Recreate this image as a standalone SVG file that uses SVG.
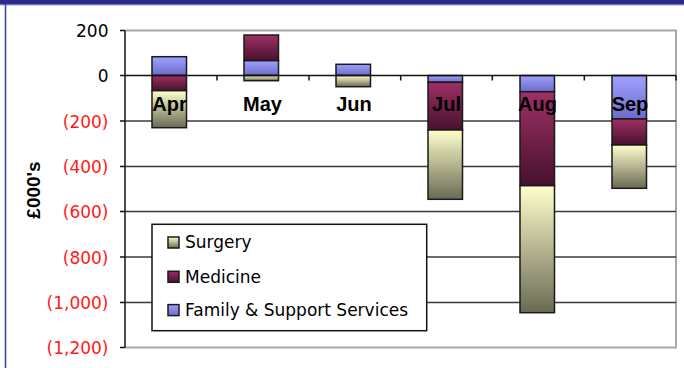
<svg xmlns="http://www.w3.org/2000/svg" width="684" height="368" viewBox="0 0 684 368">
<defs>
<linearGradient id="gFam" x1="0" y1="0" x2="0" y2="1"><stop offset="0" stop-color="#a0a0ff"/><stop offset="1" stop-color="#6c6cc8"/></linearGradient>
<linearGradient id="gMed" x1="0" y1="0" x2="0" y2="1"><stop offset="0" stop-color="#9e3066"/><stop offset="1" stop-color="#46122c"/></linearGradient>
<linearGradient id="gSur" x1="0" y1="0" x2="0" y2="1"><stop offset="0" stop-color="#ffffcc"/><stop offset="1" stop-color="#6a6a54"/></linearGradient>
<style>
.fam{fill:url(#gFam);stroke:#1a1a1a;stroke-width:1.5}
.med{fill:url(#gMed);stroke:#1a1a1a;stroke-width:1.5}
.sur{fill:url(#gSur);stroke:#1a1a1a;stroke-width:1.5}
.grid{stroke:#3a3a3a;stroke-width:1.6}
.frame{stroke:#a8a8a8;stroke-width:2;fill:none}
.axis{stroke:#111;stroke-width:1.5}
.yl{font-family:"DejaVu Sans",sans-serif;font-size:17px;text-anchor:end;fill:#000}
.neg{fill:#ff1a1a}
.cat{font-family:"Liberation Sans",Arial,sans-serif;font-size:20px;font-weight:bold;text-anchor:middle;fill:#000}
.leg{font-family:"DejaVu Sans",sans-serif;font-size:17px;fill:#000}
</style>
</defs>
<rect width="684" height="368" fill="#fff"/>
<!-- window frame -->
<rect x="0" y="0" width="684" height="4.5" fill="#2b2b8c"/>
<line x1="0" y1="4.8" x2="684" y2="4.8" stroke="#5a6ab8" stroke-width="1"/>
<line x1="5.5" y1="4" x2="5.5" y2="368" stroke="#3a4eaa" stroke-width="1.6"/>

<!-- plot area -->
<g id="plot">
<polyline class="frame" points="125,30.5 676,30.5 676,347.5 125,347.5"/>
<line class="grid" x1="125" y1="121" x2="676" y2="121"/>
<line class="grid" x1="125" y1="166.5" x2="676" y2="166.5"/>
<line class="grid" x1="125" y1="211.5" x2="676" y2="211.5"/>
<line class="grid" x1="125" y1="257" x2="676" y2="257"/>
<line class="grid" x1="125" y1="302.5" x2="676" y2="302.5"/>
</g>

<!-- bars -->
<g id="bar-apr">
<rect class="fam" x="152" y="56.7" width="34.5" height="18.8"/>
<rect class="med" x="152" y="75.5" width="34.5" height="15.2"/>
<rect class="sur" x="152" y="90.7" width="34.5" height="37"/>
</g>
<g id="bar-may">
<rect class="med" x="244" y="35" width="34.5" height="25.7"/>
<rect class="fam" x="244" y="60.7" width="34.5" height="14.8"/>
<rect class="sur" x="244" y="75.5" width="34.5" height="5.2"/>
</g>
<g id="bar-jun">
<rect class="fam" x="336" y="64.3" width="34.5" height="11.2"/>
<rect class="sur" x="336" y="75.5" width="34.5" height="11.2"/>
</g>
<g id="bar-jul">
<rect class="fam" x="428" y="75.5" width="34.5" height="6.8"/>
<rect class="med" x="428" y="82.3" width="34.5" height="47.7"/>
<rect class="sur" x="428" y="130" width="34.5" height="69.3"/>
</g>
<g id="bar-aug">
<rect class="fam" x="520" y="75.5" width="34.5" height="16.2"/>
<rect class="med" x="520" y="91.7" width="34.5" height="94"/>
<rect class="sur" x="520" y="185.7" width="34.5" height="127"/>
</g>
<g id="bar-sep">
<rect class="fam" x="612" y="75.5" width="34.5" height="43.5"/>
<rect class="med" x="612" y="119" width="34.5" height="26"/>
<rect class="sur" x="612" y="145" width="34.5" height="43.3"/>
</g>

<!-- axes -->
<g id="axes">
<line class="axis" x1="125" y1="75.5" x2="676" y2="75.5"/>
<line class="axis" x1="125" y1="30.5" x2="125" y2="347.5"/>
<g class="axis">
<line x1="120" y1="30.5" x2="125" y2="30.5"/>
<line x1="120" y1="75.5" x2="125" y2="75.5"/>
<line x1="120" y1="121" x2="125" y2="121"/>
<line x1="120" y1="166.5" x2="125" y2="166.5"/>
<line x1="120" y1="211.5" x2="125" y2="211.5"/>
<line x1="120" y1="257" x2="125" y2="257"/>
<line x1="120" y1="302.5" x2="125" y2="302.5"/>
<line x1="120" y1="347.5" x2="125" y2="347.5"/>
<line x1="217" y1="75.5" x2="217" y2="80.5"/>
<line x1="309" y1="75.5" x2="309" y2="80.5"/>
<line x1="400.7" y1="75.5" x2="400.7" y2="80.5"/>
<line x1="492.3" y1="75.5" x2="492.3" y2="80.5"/>
<line x1="584.3" y1="75.5" x2="584.3" y2="80.5"/>
<line x1="676" y1="75.5" x2="676" y2="80.5"/>
</g>
</g>

<!-- y labels -->
<g id="ylabels">
<text class="yl" x="108.5" y="37">200</text>
<text class="yl" x="108.5" y="82">0</text>
<text class="yl neg" x="108.5" y="127.5">(200)</text>
<text class="yl neg" x="108.5" y="173">(400)</text>
<text class="yl neg" x="108.5" y="218">(600)</text>
<text class="yl neg" x="108.5" y="263.5">(800)</text>
<text class="yl neg" x="108.5" y="309">(1,000)</text>
<text class="yl neg" x="108.5" y="354">(1,200)</text>
</g>
<text x="33" y="190" transform="rotate(-90 33 190)" text-anchor="middle" dominant-baseline="central" font-family="Liberation Sans, Arial, sans-serif" font-size="19" font-weight="bold">£000's</text>

<!-- category labels -->
<g id="categories">
<text class="cat" x="169.5" y="110.5">Apr</text>
<text class="cat" x="262.5" y="110.5">May</text>
<text class="cat" x="354" y="110.5">Jun</text>
<text class="cat" x="446.5" y="110.5">Jul</text>
<text class="cat" x="537.5" y="110.5">Aug</text>
<text class="cat" x="630" y="110.5">Sep</text>
</g>

<!-- legend -->
<g id="legend">
<rect x="152" y="224.3" width="274.7" height="106.4" fill="#fff" stroke="#111" stroke-width="1.5"/>
<rect class="sur" x="168" y="237" width="11" height="11" stroke-width="1.2"/>
<rect class="med" x="168" y="271.3" width="11" height="11" stroke-width="1.2"/>
<rect class="fam" x="168" y="304.6" width="11" height="11" stroke-width="1.2"/>
<text class="leg" x="185" y="248">Surgery</text>
<text class="leg" x="185" y="282.5">Medicine</text>
<text class="leg" x="185" y="316">Family &amp; Support Services</text>
</g>
</svg>
